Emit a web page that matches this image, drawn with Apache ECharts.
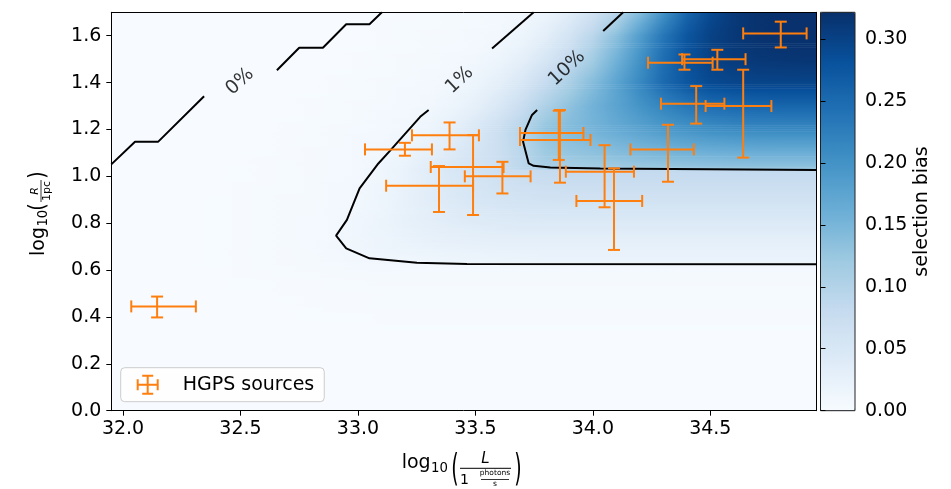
<!DOCTYPE html>
<html><head><meta charset="utf-8">
<script src="https://cdn.jsdelivr.net/npm/echarts@6/dist/echarts.min.js"></script>
<style>html,body{margin:0;padding:0;background:#fff}#c{width:951px;height:489px}</style>
</head><body><div id="c"></div>
<script>
// ---------- data ----------
const xRange = [31.95, 34.95];
const yRange = [0, 1.7];
const cbarRange = [0, 0.3215];
const xTicks = [32.0, 32.5, 33.0, 33.5, 34.0, 34.5];
const yTicks = [0.0, 0.2, 0.4, 0.6, 0.8, 1.0, 1.2, 1.4, 1.6];
const cbarTicks = [0.00, 0.05, 0.10, 0.15, 0.20, 0.25, 0.30];

// selection-bias field, sampled along horizontal profiles.
// biasX: sample columns (log10 L); biasLevelY: profile heights (log10 R).
// A height listed twice marks a jump in the field (the 1% / 10% steps).
const biasX = [32.0,32.1,32.2,32.3,32.4,32.5,32.6,32.7,32.8,32.9,33.0,33.1,33.2,33.3,33.4,33.5,33.6,33.7,33.8,33.9,34.0,34.1,34.2,34.3,34.4,34.5,34.6,34.7,34.8,34.9];
const biasLevelY = [0.30, 0.40, 0.55, 0.625, 0.625, 0.70, 0.80, 0.90, 1.00, 1.03, 1.03, 1.10, 1.20, 1.30, 1.40, 1.50, 1.60, 1.70];
const lv030  = [0,0,0,0,0,0,0,0,0,0,0,0,0,0,0,0,0,0,0,0,0,0,0,0,0,0,0,0,0,0];
const lv040  = [0,0,0,0,0,0,0,0,0.001,0.001,0.001,0.002,0.002,0.002,0.002,0.002,0.002,0.002,0.002,0.002,0.002,0.002,0.002,0.002,0.002,0.002,0.002,0.002,0.002,0.002];
const lv055  = [0,0,0,0,0,0.001,0.001,0.002,0.002,0.003,0.003,0.004,0.004,0.004,0.004,0.004,0.004,0.004,0.004,0.004,0.004,0.004,0.004,0.004,0.004,0.004,0.004,0.004,0.004,0.004];
const lv0625a= [0,0,0,0,0.001,0.002,0.003,0.004,0.005,0.006,0.008,0.008,0.007,0.007,0.007,0.007,0.007,0.007,0.007,0.007,0.007,0.007,0.007,0.007,0.007,0.007,0.007,0.007,0.007,0.007];
const lv0625b= [0,0,0,0,0.001,0.002,0.003,0.004,0.005,0.006,0.008,0.009,0.0098,0.0105,0.012,0.014,0.016,0.017,0.018,0.018,0.018,0.018,0.018,0.018,0.018,0.018,0.018,0.018,0.018,0.018];
const lv070  = [0,0,0,0,0.001,0.002,0.003,0.004,0.006,0.009,0.013,0.016,0.019,0.022,0.024,0.025,0.026,0.026,0.026,0.026,0.026,0.026,0.026,0.026,0.026,0.026,0.026,0.026,0.026,0.026];
const lv080  = [0,0,0,0,0.001,0.002,0.003,0.005,0.006,0.008,0.012,0.018,0.025,0.031,0.036,0.039,0.041,0.043,0.043,0.043,0.043,0.043,0.043,0.043,0.043,0.043,0.043,0.043,0.043,0.043];
const lv090  = [0,0,0,0,0.001,0.002,0.003,0.004,0.005,0.007,0.0105,0.016,0.025,0.035,0.044,0.051,0.056,0.059,0.061,0.062,0.062,0.062,0.062,0.062,0.062,0.062,0.062,0.062,0.062,0.062];
const lv100  = [0,0,0,0,0,0.001,0.002,0.003,0.004,0.006,0.008,0.013,0.022,0.036,0.048,0.058,0.066,0.072,0.076,0.079,0.079,0.079,0.079,0.079,0.079,0.079,0.079,0.079,0.079,0.079];
const lv103a = [0,0,0,0,0,0.001,0.002,0.003,0.004,0.006,0.0085,0.013,0.023,0.037,0.050,0.060,0.069,0.076,0.081,0.083,0.084,0.085,0.085,0.085,0.085,0.085,0.085,0.085,0.085,0.085];
const lv103b = [0,0,0,0,0,0.001,0.002,0.003,0.004,0.006,0.0085,0.013,0.023,0.037,0.050,0.060,0.069,0.090,0.105,0.109,0.112,0.115,0.118,0.120,0.122,0.124,0.125,0.126,0.126,0.126];
const lv110  = [0,0,0,0,0,0,0.001,0.002,0.004,0.006,0.008,0.0095,0.016,0.028,0.042,0.056,0.070,0.092,0.120,0.127,0.133,0.139,0.145,0.150,0.154,0.157,0.159,0.160,0.160,0.160];
const lv120  = [0,0,0,0,0,0,0,0.002,0.003,0.004,0.006,0.008,0.0095,0.016,0.030,0.048,0.070,0.097,0.130,0.142,0.153,0.165,0.177,0.189,0.198,0.205,0.209,0.211,0.212,0.212];
const lv130  = [0,0,0,0,0,0,0,0,0.002,0.003,0.004,0.006,0.008,0.0097,0.016,0.028,0.048,0.075,0.105,0.132,0.155,0.176,0.198,0.218,0.234,0.245,0.251,0.254,0.255,0.255];
const lv140  = [0,0,0,0,0,0,0,0,0,0.002,0.003,0.004,0.006,0.008,0.010,0.017,0.030,0.050,0.080,0.108,0.140,0.175,0.212,0.250,0.275,0.290,0.295,0.297,0.297,0.297];
const lv150  = [0,0,0,0,0,0,0,0,0,0,0.002,0.003,0.004,0.005,0.007,0.0095,0.016,0.030,0.052,0.082,0.115,0.155,0.200,0.245,0.280,0.300,0.308,0.312,0.314,0.315];
const lv160  = [0,0,0,0,0,0,0,0,0,0,0,0.002,0.003,0.004,0.005,0.007,0.0095,0.016,0.032,0.058,0.092,0.135,0.185,0.235,0.275,0.300,0.312,0.318,0.320,0.320];
const lv170  = [0,0,0,0,0,0,0,0,0,0,0,0.001,0.002,0.003,0.004,0.005,0.007,0.0095,0.017,0.035,0.062,0.092,0.140,0.200,0.255,0.290,0.310,0.318,0.320,0.320];
const biasLevels = [lv030, lv040, lv055, lv0625a, lv0625b, lv070, lv080, lv090, lv100, lv103a, lv103b, lv110, lv120, lv130, lv140, lv150, lv160, lv170];

// contour lines (each array is one drawn piece; gaps are where labels sit)
const contour0a = [[31.95,1.051],[32.051,1.148],[32.150,1.148],[32.345,1.342]];
const contour0b = [[32.655,1.453],[32.750,1.549],[32.851,1.549],[32.950,1.649],[33.049,1.649],[33.102,1.70]];
const contour1a = [[33.748,1.70],[33.571,1.546]];
const contour1b = [[33.301,1.283],[33.265,1.254],[33.137,1.110],[33.087,1.055],[33.007,0.949],[32.953,0.814],[32.907,0.747],[32.950,0.693],[33.049,0.650],[33.251,0.631],[33.464,0.626],[34.95,0.625]];
const contour10a = [[34.129,1.70],[34.044,1.620]];
const contour10b = [[33.763,1.283],[33.741,1.262],[33.713,1.198],[33.703,1.148],[33.727,1.055],[33.748,1.045],[33.819,1.038],[34.032,1.034],[34.95,1.027]];
const contourLabelText = ['0%', '1%', '10%'];
const contourLabelX = [32.498, 33.433, 33.890];
const contourLabelY = [1.404, 1.411, 1.461];

// HGPS sources: centre and error-bar bounds
const srcX   = [34.80, 34.53, 34.39, 34.44, 34.64, 34.32, 33.855, 33.86, 33.39, 33.20, 33.49, 33.345, 33.615, 34.05, 34.09, 32.145];
const srcXLo = [34.64, 34.38, 34.235, 34.29, 34.48, 34.16, 33.69, 33.69, 33.23, 33.03, 33.31, 33.12, 33.455, 33.885, 33.93, 32.035];
const srcXHi = [34.91, 34.65, 34.51, 34.56, 34.76, 34.43, 33.96, 33.99, 33.515, 33.315, 33.62, 33.49, 33.735, 34.175, 34.21, 32.31];
const srcY   = [1.61, 1.50, 1.485, 1.31, 1.30, 1.115, 1.185, 1.155, 1.175, 1.115, 1.04, 0.96, 1.00, 1.02, 0.895, 0.445];
const srcYLo = [1.55, 1.455, 1.455, 1.225, 1.08, 0.977, 1.07, 0.973, 1.115, 1.088, 0.835, 0.848, 0.927, 0.868, 0.686, 0.398];
const srcYHi = [1.66, 1.54, 1.52, 1.385, 1.455, 1.22, 1.28, 1.283, 1.23, 1.143, 1.176, 1.044, 1.062, 1.133, 1.034, 0.487];

// ---------- styles ----------
const FONT = 'DejaVu Sans';
const BLUES = ['#f7fbff','#deebf7','#c6dbef','#9ecae1','#6baed6','#4292c6','#2171b5','#08519c','#08306b'];
const ORANGE = '#ff7f0e';

function biasColor(v) {
  const t = Math.max(0, Math.min(1, (v - cbarRange[0]) / (cbarRange[1] - cbarRange[0])));
  return echarts.color.lerp(t, BLUES);
}

const bandData = biasLevelY.slice(0, -1).map((y, i) => [i]);
const srcData = srcX.map((x, i) => [x, srcY[i], srcXLo[i], srcXHi[i], srcYLo[i], srcYHi[i]]);
const labelData = contourLabelX.map((x, i) => ({value: [x, contourLabelY[i]], name: contourLabelText[i]}));

function contourSeries(pts) {
  return {type: 'line', data: pts, xAxisIndex: 0, yAxisIndex: 0, showSymbol: false, symbol: 'none',
    lineStyle: {color: '#000', width: 2}, z: 4, silent: true, clip: true};
}

const tickStyle = {show: true, length: 5, inside: false, lineStyle: {color: '#000', width: 1}};
const lblStyle = {color: '#000', fontFamily: FONT, fontSize: 19};

const chart = echarts.init(document.getElementById('c'), null, {renderer: 'canvas'});
chart.setOption({
  animation: false,
  grid: [
    {left: 111.3, top: 12.3, width: 704.7, height: 398.4, show: true, backgroundColor: '#f7fbff', borderWidth: 0},
    {left: 820.5, top: 12.3, width: 34.5, height: 398.4, show: true, borderColor: '#222', borderWidth: 1, backgroundColor: 'transparent', z: 10}
  ],
  xAxis: [
    {type: 'value', gridIndex: 0, min: xRange[0], max: xRange[1], position: 'bottom', z: 10,
      axisLine: {show: true, onZero: false, lineStyle: {color: '#000', width: 1}},
      axisTick: Object.assign({customValues: xTicks}, tickStyle),
      axisLabel: Object.assign({customValues: xTicks, margin: 9, formatter: v => v.toFixed(1)}, lblStyle),
      splitLine: {show: false}},
    {type: 'value', gridIndex: 0, min: xRange[0], max: xRange[1], position: 'top', z: 10,
      axisLine: {show: true, onZero: false, lineStyle: {color: '#000', width: 1}},
      axisTick: {show: false}, axisLabel: {show: false}, splitLine: {show: false}},
    {type: 'value', gridIndex: 1, min: 0, max: 1, show: false}
  ],
  yAxis: [
    {type: 'value', gridIndex: 0, min: yRange[0], max: yRange[1], position: 'left', z: 10,
      axisLine: {show: true, onZero: false, lineStyle: {color: '#000', width: 1}},
      axisTick: Object.assign({customValues: yTicks}, tickStyle),
      axisLabel: Object.assign({customValues: yTicks, margin: 10, formatter: v => v.toFixed(1)}, lblStyle),
      splitLine: {show: false}},
    {type: 'value', gridIndex: 0, min: yRange[0], max: yRange[1], position: 'right', z: 10,
      axisLine: {show: true, onZero: false, lineStyle: {color: '#000', width: 1}},
      axisTick: {show: false}, axisLabel: {show: false}, splitLine: {show: false}},
    {type: 'value', gridIndex: 1, min: cbarRange[0], max: cbarRange[1], position: 'right', z: 10,
      axisLine: {show: false},
      axisTick: Object.assign({customValues: cbarTicks}, tickStyle),
      axisLabel: Object.assign({customValues: cbarTicks, margin: 10, formatter: v => v.toFixed(2)}, lblStyle),
      splitLine: {show: false},
      name: 'selection bias', nameLocation: 'middle', nameRotate: 90, nameGap: 58,
      nameTextStyle: {color: '#000', fontFamily: FONT, fontSize: 19}}
  ],
  visualMap: [{
    type: 'continuous', seriesIndex: 0, dimension: 0, min: cbarRange[0], max: cbarRange[1],
    inRange: {color: BLUES}, outOfRange: {color: BLUES[8]}, orient: 'vertical', left: 820.5, top: 12.3, itemWidth: 34.5, itemHeight: 398.4,
    calculable: false, hoverLink: false, padding: 0, textStyle: {color: 'transparent'}
  }],
  legend: {
    left: 120.7, top: 367.7, orient: 'horizontal', padding: [7, 10, 7, 16],
    itemWidth: 22, itemHeight: 20, selectedMode: false,
    backgroundColor: 'rgba(255,255,255,0.8)', borderColor: '#cccccc', borderWidth: 1, borderRadius: 4,
    data: [{name: 'HGPS sources',
      icon: 'path://M0,9H22V11H0Z M10,0H12V20H10Z M0,4.5H2V15.5H0Z M20,4.5H22V15.5H20Z M5.5,0H16.5V2H5.5Z M5.5,18H16.5V20H5.5Z',
      itemStyle: {color: ORANGE}}],
    textStyle: {color: '#000', fontFamily: FONT, fontSize: 19, padding: [0, 0, 0, 19]}
  },
  series: [
    {
      // the bias field: each band between two profiles is shaded smoothly
      type: 'custom', name: 'bias', xAxisIndex: 0, yAxisIndex: 0, data: bandData, z: 1, silent: true,
      renderItem: function (params, api) {
        const i = params.dataIndex;
        const y0 = biasLevelY[i], y1 = biasLevelY[i + 1];
        if (!(y1 > y0)) return null;
        const a = api.coord([xRange[0], y0]), b = api.coord([xRange[1], y1]);
        const cs = params.coordSys;
        const top = Math.max(b[1], cs.y), bottom = a[1];
        const n = Math.max(1, Math.ceil((a[1] - b[1]) / 2));
        const rowA = biasLevels[i], rowB = biasLevels[i + 1];
        const children = [];
        for (let s = 0; s < n; s++) {
          const f = (s + 0.5) / n;
          const sy1 = a[1] - (a[1] - b[1]) * (s + 1) / n;
          const sy0 = a[1] - (a[1] - b[1]) * s / n;
          const yTop = Math.max(sy1, top), yBot = Math.min(sy0, bottom);
          if (yBot <= yTop) continue;
          const stops = biasX.map((x, c) => ({
            offset: (x - xRange[0]) / (xRange[1] - xRange[0]),
            color: biasColor(rowA[c] + (rowB[c] - rowA[c]) * f)
          }));
          children.push({type: 'rect',
            shape: {x: a[0], y: yTop - 0.3, width: b[0] - a[0], height: yBot - yTop + 0.6},
            style: {fill: new echarts.graphic.LinearGradient(0, 0, 1, 0, stops), stroke: null}});
        }
        return {type: 'group', children: children};
      }
    },
    contourSeries(contour0a), contourSeries(contour0b),
    contourSeries(contour1a), contourSeries(contour1b),
    contourSeries(contour10a), contourSeries(contour10b),
    {
      type: 'scatter', xAxisIndex: 0, yAxisIndex: 0, data: labelData, symbolSize: 0, z: 4, silent: true,
      label: {show: true, position: 'inside', formatter: '{b}', rotate: 43, color: '#000', fontFamily: FONT, fontSize: 19}
    },
    {
      type: 'custom', name: 'HGPS sources', xAxisIndex: 0, yAxisIndex: 0, data: srcData, z: 6, silent: true,
      encode: {x: [0, 2, 3], y: [1, 4, 5]},
      itemStyle: {color: ORANGE},
      renderItem: function (params, api) {
        const x = api.value(0), y = api.value(1);
        const pL = api.coord([api.value(2), y]), pR = api.coord([api.value(3), y]);
        const pB = api.coord([x, api.value(4)]), pT = api.coord([x, api.value(5)]);
        const cap = 6;
        const st = {stroke: ORANGE, lineWidth: 2};
        const ln = (x1, y1, x2, y2) => ({type: 'line', shape: {x1, y1, x2, y2}, style: st});
        return {type: 'group', children: [
          ln(pL[0], pL[1], pR[0], pR[1]),
          ln(pB[0], pB[1], pT[0], pT[1]),
          ln(pL[0], pL[1] - cap, pL[0], pL[1] + cap),
          ln(pR[0], pR[1] - cap, pR[0], pR[1] + cap),
          ln(pT[0] - cap, pT[1], pT[0] + cap, pT[1]),
          ln(pB[0] - cap, pB[1], pB[0] + cap, pB[1])
        ]};
      }
    }
  ],
  graphic: [
    // x axis title: log10( L / (1 photons/s) )
    {type: 'text', x: 401.7, y: 463.4, style: {text: 'log', fontFamily: FONT, fontSize: 19, fill: '#000', align: 'left', verticalAlign: 'middle'}},
    {type: 'text', x: 431, y: 468.9, style: {text: '10', fontFamily: FONT, fontSize: 13.3, fill: '#000', align: 'left', verticalAlign: 'middle'}},
    {type: 'text', x: 455, y: 470.5, scaleY: 2, style: {text: '(', fontFamily: FONT, fontSize: 19, fill: '#000', align: 'center', verticalAlign: 'middle'}},
    {type: 'text', x: 485.5, y: 459.5, style: {text: 'L', fontFamily: FONT, fontStyle: 'italic', fontSize: 15, fill: '#000', align: 'center', verticalAlign: 'middle'}},
    {type: 'line', shape: {x1: 460, y1: 468.3, x2: 511, y2: 468.3}, style: {stroke: '#000', lineWidth: 1}},
    {type: 'text', x: 464.5, y: 480, style: {text: '1', fontFamily: FONT, fontSize: 14, fill: '#000', align: 'center', verticalAlign: 'middle'}},
    {type: 'text', x: 495, y: 473.4, style: {text: 'photons', fontFamily: FONT, fontSize: 7.5, fill: '#000', align: 'center', verticalAlign: 'middle'}},
    {type: 'line', shape: {x1: 481, y1: 479.5, x2: 509, y2: 479.5}, style: {stroke: '#000', lineWidth: 0.8}},
    {type: 'text', x: 495, y: 484.5, style: {text: 's', fontFamily: FONT, fontSize: 7.5, fill: '#000', align: 'center', verticalAlign: 'middle'}},
    {type: 'text', x: 518, y: 470.5, scaleY: 2, style: {text: ')', fontFamily: FONT, fontSize: 19, fill: '#000', align: 'center', verticalAlign: 'middle'}},
    // y axis title: log10( R / 1pc ), rotated
    {type: 'group', x: 40, y: 211, rotation: Math.PI / 2, children: [
      {type: 'text', x: -45, y: -1.1, style: {text: 'log', fontFamily: FONT, fontSize: 19, fill: '#000', align: 'left', verticalAlign: 'middle'}},
      {type: 'text', x: -15.6, y: 3.9, style: {text: '10', fontFamily: FONT, fontSize: 13.3, fill: '#000', align: 'left', verticalAlign: 'middle'}},
      {type: 'text', x: 4, y: -1, scaleY: 1.25, style: {text: '(', fontFamily: FONT, fontSize: 19, fill: '#000', align: 'center', verticalAlign: 'middle'}},
      {type: 'text', x: 20, y: -4.8, style: {text: 'R', fontFamily: FONT, fontStyle: 'italic', fontSize: 11, fill: '#000', align: 'center', verticalAlign: 'middle'}},
      {type: 'line', shape: {x1: 9, y1: 1, x2: 31, y2: 1}, style: {stroke: '#000', lineWidth: 0.8}},
      {type: 'text', x: 20, y: 7.2, style: {text: '1pc', fontFamily: FONT, fontSize: 11, fill: '#000', align: 'center', verticalAlign: 'middle'}},
      {type: 'text', x: 36, y: -1, scaleY: 1.25, style: {text: ')', fontFamily: FONT, fontSize: 19, fill: '#000', align: 'center', verticalAlign: 'middle'}}
    ]}
  ]
});
</script></body></html>
